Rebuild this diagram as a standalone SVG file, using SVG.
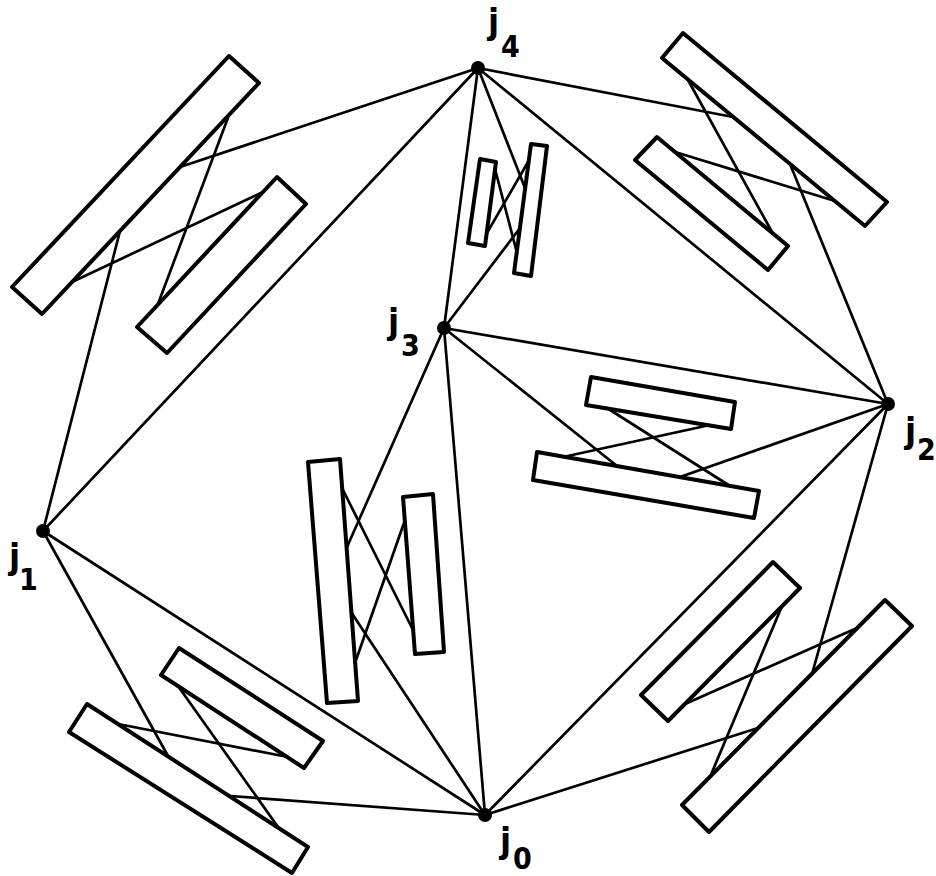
<svg xmlns="http://www.w3.org/2000/svg" width="936" height="876" viewBox="0 0 936 876">
<style>
.board{fill:#fff;stroke:#000;stroke-width:4;stroke-linejoin:round}
.edge{stroke:#000;stroke-width:2.7;fill:none;stroke-linecap:round}
.dot{fill:#000}
.lab{font-family:"DejaVu Sans Condensed","DejaVu Sans","Liberation Sans",sans-serif;font-weight:bold;fill:#000}
.j{font-size:36px}
.d{font-size:30px}
</style>
<rect width="936" height="876" fill="#fff"/>
<g id="boards">
<g id="board-j1-j4">
<polygon class="board" points="229,56 259,83 42,314 12,287"/>
<polygon class="board" points="277,177 306,204 167,353 137,327"/>
</g>
<g id="board-j4-j2">
<polygon class="board" points="683,33 887,202 865,226 662,58"/>
<polygon class="board" points="657,137 788,246 768,270 635,160"/>
</g>
<g id="board-j4-j3">
<polygon class="board" points="480,159 496,162 485,246 468,243"/>
<polygon class="board" points="531,144 547,146 531,276 514,273"/>
</g>
<g id="board-j3-j2">
<polygon class="board" points="591,377 735,402 731,429 586,405"/>
<polygon class="board" points="537,452 759,491 754,518 533,480"/>
</g>
<g id="board-j3-j0">
<polygon class="board" points="308,462 340,459 358,701 327,703"/>
<polygon class="board" points="403,497 433,494 444,652 415,654"/>
</g>
<g id="board-j1-j0">
<polygon class="board" points="179,648 323,741 304,768 161,675"/>
<polygon class="board" points="87,704 308,847 292,873 69,732"/>
</g>
<g id="board-j0-j2">
<polygon class="board" points="773,562 800,588 668,721 641,695"/>
<polygon class="board" points="885,600 912,626 709,832 682,805"/>
</g>
</g>
<g id="connectors">
<line class="edge" x1="478" y1="68" x2="43" y2="531"/>
<line class="edge" x1="478" y1="68" x2="444" y2="328"/>
<line class="edge" x1="478" y1="68" x2="888" y2="404"/>
<line class="edge" x1="444" y1="328" x2="888" y2="404"/>
<line class="edge" x1="444" y1="328" x2="485" y2="815"/>
<line class="edge" x1="888" y1="404" x2="485" y2="815"/>
<line class="edge" x1="43" y1="531" x2="485" y2="815"/>
<line class="edge" x1="478" y1="68" x2="180" y2="167"/>
<line class="edge" x1="229" y1="115" x2="158" y2="304"/>
<line class="edge" x1="72" y1="282" x2="263" y2="192"/>
<line class="edge" x1="120" y1="231" x2="43" y2="531"/>
<line class="edge" x1="478" y1="68" x2="733" y2="117"/>
<line class="edge" x1="688" y1="80" x2="772" y2="232"/>
<line class="edge" x1="675" y1="152" x2="835" y2="201"/>
<line class="edge" x1="790" y1="164" x2="888" y2="404"/>
<line class="edge" x1="478" y1="68" x2="525" y2="188"/>
<line class="edge" x1="495" y1="169" x2="517" y2="253"/>
<line class="edge" x1="528" y1="162" x2="487" y2="233"/>
<line class="edge" x1="520" y1="228" x2="444" y2="328"/>
<line class="edge" x1="444" y1="328" x2="617" y2="466"/>
<line class="edge" x1="607" y1="408" x2="730" y2="486"/>
<line class="edge" x1="563" y1="457" x2="710" y2="425"/>
<line class="edge" x1="680" y1="477" x2="888" y2="404"/>
<line class="edge" x1="444" y1="328" x2="347" y2="547"/>
<line class="edge" x1="342" y1="488" x2="413" y2="630"/>
<line class="edge" x1="405" y1="520" x2="355" y2="663"/>
<line class="edge" x1="351" y1="612" x2="485" y2="815"/>
<line class="edge" x1="43" y1="531" x2="168" y2="756"/>
<line class="edge" x1="118" y1="724" x2="288" y2="757"/>
<line class="edge" x1="178" y1="686" x2="278" y2="827"/>
<line class="edge" x1="230" y1="796" x2="485" y2="815"/>
<line class="edge" x1="485" y1="815" x2="758" y2="728"/>
<line class="edge" x1="685" y1="704" x2="857" y2="628"/>
<line class="edge" x1="782" y1="606" x2="710" y2="777"/>
<line class="edge" x1="812" y1="674" x2="888" y2="404"/>
</g>
<g id="j4"><circle class="dot" cx="478" cy="68" r="7"/><text class="lab j" x="488" y="34">j</text><text class="lab d" x="501" y="57">4</text></g>
<g id="j3"><circle class="dot" cx="444" cy="328" r="7"/><text class="lab j" x="388" y="334">j</text><text class="lab d" x="401" y="356">3</text></g>
<g id="j2"><circle class="dot" cx="888" cy="404" r="7"/><text class="lab j" x="905" y="443">j</text><text class="lab d" x="917" y="460">2</text></g>
<g id="j1"><circle class="dot" cx="43" cy="531" r="7"/><text class="lab j" x="9" y="569">j</text><text class="lab d" x="19" y="590">1</text></g>
<g id="j0"><circle class="dot" cx="485" cy="815" r="7"/><text class="lab j" x="500" y="853">j</text><text class="lab d" x="513" y="869">0</text></g>
</svg>
